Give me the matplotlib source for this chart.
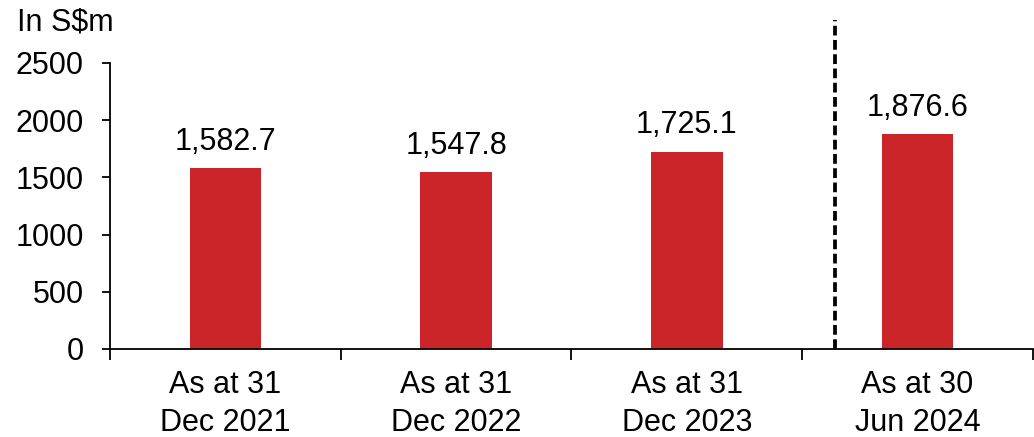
import matplotlib.pyplot as plt
import numpy as np

plt.rcParams['font.family'] = ['Liberation Sans', 'DejaVu Sans']

categories = ['As at 31\nDec 2021', 'As at 31\nDec 2022', 'As at 31\nDec 2023', 'As at 30\nJun 2024']
values = [1582.7, 1547.8, 1725.1, 1876.6]
labels = ['1,582.7', '1,547.8', '1,725.1', '1,876.6']
yticks = [0, 500, 1000, 1500, 2000, 2500]

fig = plt.figure(figsize=(10.34, 4.37), dpi=100)
ax = fig.add_axes([0.1064, 0.2014, 0.8926, 0.7596])

x = np.arange(len(categories))
ax.bar(x, values, width=0.31, color='#CC2529')

for xi, v, lab in zip(x, values, labels):
    ax.annotate(lab, (xi, v), xytext=(0, 8), textcoords='offset points',
                ha='center', va='bottom', fontsize=22)

# dashed separator before the half-year bar
ax.plot([2.64, 2.64], [0, 2876], color='black', lw=2.7, ls=(0, (2.6, 1.2)), clip_on=False)

ax.set_xlim(-0.5, 3.5)
ax.set_ylim(0, 2900)
ax.set_yticks(yticks)
ax.set_yticklabels([str(t) for t in yticks], fontsize=22)

ax.set_xticks(np.arange(-0.5, 4, 1))
ax.set_xticklabels([])
ax.set_xticks(x, minor=True)
ax.set_xticklabels(categories, minor=True, fontsize=22, linespacing=1.35)
ax.tick_params(axis='x', which='major', length=8, width=1.3, direction='out')
ax.tick_params(axis='x', which='minor', length=0, pad=15)
ax.tick_params(axis='y', length=6, width=1.3, pad=13)

for s in ['top', 'right']:
    ax.spines[s].set_visible(False)
ax.spines['left'].set_bounds(0, 2500)
ax.spines['left'].set_linewidth(1.3)
ax.spines['bottom'].set_linewidth(1.3)

fig.text(0.063, 0.948, 'In S$m', fontsize=22, ha='center', va='center')

fig.savefig('out.png', dpi=100)
